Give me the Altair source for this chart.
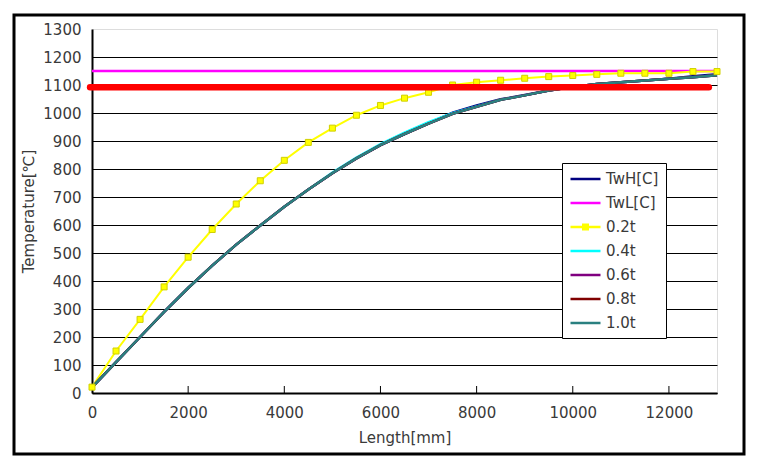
import altair as alt
import pandas as pd

# ---------------- data ----------------
length = [0, 500, 1000, 1500, 2000, 2500, 3000, 3500, 4000, 4500, 5000, 5500, 6000,
          6500, 7000, 7500, 8000, 8500, 9000, 9500, 10000, 10500, 11000, 11500, 12000,
          12500, 13000]

twh = [20, 110, 200, 290, 375, 455, 530, 598, 665, 727, 785, 838, 885, 925, 963,
       1001, 1027, 1049, 1064, 1080, 1093, 1104, 1110, 1116, 1122, 1131, 1138]
twl_length = [0, 13000]
twl = [1150, 1150]
t02 = [21, 150, 263, 379, 485, 584, 675, 758, 831, 895, 946, 992, 1027, 1053, 1074,
       1100, 1110, 1117, 1124, 1130, 1134, 1138, 1142, 1142, 1142, 1148, 1148]
t04 = [20, 110, 200, 290, 375, 455, 530, 598, 665, 727, 787, 841, 889, 930, 967,
       999, 1023, 1047, 1063, 1080, 1093, 1104, 1110, 1116, 1122, 1128, 1135]
t06 = [20, 110, 200, 290, 375, 455, 530, 598, 665, 727, 785, 838, 885, 925, 962,
       997, 1022, 1047, 1063, 1080, 1093, 1104, 1110, 1116, 1122, 1128, 1135]
t08 = [20, 110, 200, 290, 375, 455, 530, 598, 665, 727, 785, 838, 885, 925, 962,
       997, 1022, 1047, 1063, 1080, 1093, 1104, 1110, 1116, 1122, 1128, 1135]
t10 = [20, 110, 200, 290, 375, 455, 530, 598, 665, 727, 785, 838, 885, 925, 962,
       997, 1022, 1047, 1063, 1080, 1093, 1104, 1110, 1116, 1122, 1128, 1135]

red_length = [-40, 12830]
red_level = [1092, 1092]

x_ticks = [0, 2000, 4000, 6000, 8000, 10000, 12000]
inner_ticks = [2000, 4000, 6000, 8000, 10000, 12000]
y_ticks = [0, 100, 200, 300, 400, 500, 600, 700, 800, 900, 1000, 1100, 1200, 1300]

names = ["TwH[C]", "TwL[C]", "0.2t", "0.4t", "0.6t", "0.8t", "1.0t"]
colors = ["#000080", "#FF00FF", "#FFFF00", "#00FFFF", "#800080", "#800000", "#2A8080"]
widths = [2.5, 2.5, 2, 2.5, 2.5, 2.5, 2.5]

# ---------------- tables ----------------
series_values = {
    "TwH[C]": (length, twh),
    "TwL[C]": (twl_length, twl),
    "0.2t": (length, t02),
    "0.4t": (length, t04),
    "0.6t": (length, t06),
    "0.8t": (length, t08),
    "1.0t": (length, t10),
}
rows = []
for name in names:
    xs, ys = series_values[name]
    for i, (xv, yv) in enumerate(zip(xs, ys)):
        rows.append({"series": name, "length": xv, "temp": yv, "i": i})
df = pd.DataFrame(rows)
df02 = pd.DataFrame({"length": length, "temp": t02})
df_red = pd.DataFrame({"length": red_length, "temp": red_level, "i": [0, 1]})
df_ticks = pd.DataFrame({"length": inner_ticks})
df_frame = pd.DataFrame({"k": [0]})

FONT = "DejaVu Sans"
TXT = "#3a3a3a"
FS = 15

x_enc = alt.X(
    "length:Q",
    scale=alt.Scale(domain=[0, 13000], nice=False, zero=False),
    axis=alt.Axis(values=x_ticks, format="d", title="Length[mm]", grid=False, ticks=False,
                  labelFlush=False, labelPadding=12, labelFont=FONT, labelFontSize=FS,
                  labelColor=TXT, domainColor="black", domainWidth=2,
                  titleFont=FONT, titleFontSize=FS, titleFontWeight="normal",
                  titleColor=TXT, titleY=44, titleBaseline="middle"),
)
y_enc = alt.Y(
    "temp:Q",
    scale=alt.Scale(domain=[0, 1300], nice=False),
    axis=alt.Axis(values=y_ticks, format="d", title="Temperature[℃]", grid=True,
                  gridColor="black", gridWidth=1,
                  gridOpacity={"condition": {"test": "datum.value >= 1300", "value": 0}, "value": 1},
                  ticks=False, labelPadding=11, labelFont=FONT, labelFontSize=FS,
                  labelColor=TXT, domainColor="black", domainWidth=2,
                  titleFont=FONT, titleFontSize=FS, titleFontWeight="normal",
                  titleColor=TXT, titleX=-64, titleY=182, titleBaseline="middle",
                  titleAngle=270),
)

legend = alt.Legend(
    title=None, orient="none", legendX=470, legendY=134,
    fillColor="white", strokeColor="black", padding=7, rowPadding=7,
    labelFont=FONT, labelFontSize=FS, labelColor=TXT,
    symbolSize=225, symbolStrokeWidth=2.5, labelOffset=19,
    symbolType={"expr": "datum.value === '0.2t' ? 'M-1,0H3M0.7,-0.3H1.3V0.3H0.7Z' : 'M-1,0H3'"},
)
color_enc = alt.Color("series:N", scale=alt.Scale(domain=names, range=colors), legend=legend)

frame = alt.Chart(df_frame).mark_rect(filled=False, stroke="black", strokeWidth=3, clip=False).encode(
    x=alt.value(-78), x2=alt.value(652), y=alt.value(-14), y2=alt.value(425)
)

tick_layer = alt.Chart(df_ticks).mark_rule(color="black", strokeWidth=1).encode(
    x=x_enc, y=alt.value(364), y2=alt.value(357)
)

line_layers = []
for name, w in zip(names, widths):
    line_layers.append(
        alt.Chart(df).transform_filter(alt.datum.series == name)
        .mark_line(strokeWidth=w)
        .encode(x=x_enc, y=y_enc, color=color_enc, order="i:Q")
    )

markers = alt.Chart(df02).mark_square(size=36, color="#FFFF00", stroke="#D0D000",
                                        strokeWidth=1, opacity=1).encode(x=x_enc, y=y_enc)

red = alt.Chart(df_red).mark_line(color="#FF0000", strokeWidth=6.5, strokeCap="round",
                                  clip=False).encode(x=x_enc, y=y_enc, order="i:Q")

chart = alt.layer(frame, tick_layer, *line_layers, markers, red).properties(
    width=625, height=364,
    padding={"left": 84, "top": 21, "right": 40, "bottom": 68},
    autosize=alt.AutoSizeParams(type="none"),
    background="white",
).configure_view(fill="#C0C0C0", stroke="#808080", strokeWidth=2).configure(font=FONT)

chart.save("out.html", embed_options={"renderer": "svg", "actions": False})
